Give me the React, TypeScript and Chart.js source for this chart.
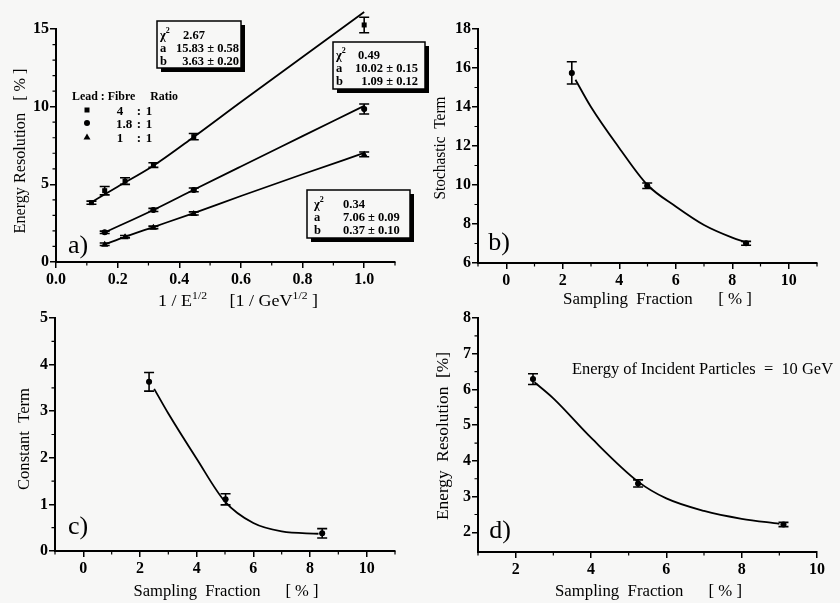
import React, { useEffect, useRef } from 'react';
import { Chart, registerables } from 'chart.js';
Chart.register(...registerables);

const FONT = '"Liberation Serif", "Times New Roman", serif';
const BG = '#f7f7f6';

// ---------------- Panel a) : energy resolution vs 1/sqrt(E) ----------------
const aX_4to1 = [0.115, 0.158, 0.224, 0.316, 0.447, 1.0];
const aY_4to1 = [3.82, 4.59, 5.21, 6.24, 8.07, 15.26];
const aE_4to1 = [0.1, 0.27, 0.21, 0.15, 0.2, 0.5];
const aX_18to1 = [0.158, 0.316, 0.447, 1.0];
const aY_18to1 = [1.91, 3.35, 4.64, 9.85];
const aE_18to1 = [0.08, 0.1, 0.12, 0.32];
const aX_1to1 = [0.158, 0.224, 0.316, 0.447, 1.0];
const aY_1to1 = [1.14, 1.63, 2.23, 3.13, 6.93];
const aE_1to1 = [0.08, 0.08, 0.08, 0.1, 0.15];
// fit curves
const aFitX_4to1 = [0.115, 0.2, 0.316, 0.447, 0.6, 0.8, 1.0];
const aFitY_4to1 = [3.85, 4.85, 6.2, 8.05, 10.3, 13.2, 16.1];
const aFitX_18to1 = [0.158, 0.316, 0.447, 0.6, 0.8, 1.0];
const aFitY_18to1 = [1.9, 3.35, 4.65, 6.15, 8.1, 10.05];
const aFitX_1to1 = [0.158, 0.224, 0.316, 0.447, 0.6, 0.8, 1.0];
const aFitY_1to1 = [1.14, 1.62, 2.25, 3.15, 4.25, 5.65, 7.02];
const aXTicks = [0, 0.2, 0.4, 0.6, 0.8, 1.0];
const aYTicks = [0, 5, 10, 15];
const aXMinor = [0.1, 0.3, 0.5, 0.7, 0.9, 1.1];
const aYMinor = [1, 2, 3, 4, 6, 7, 8, 9, 11, 12, 13, 14];
const aFitBoxes = [
  { chi2: '2.67', a: '15.83 ± 0.58', b: '3.63 ± 0.20' },
  { chi2: '0.49', a: '10.02 ± 0.15', b: '1.09 ± 0.12' },
  { chi2: '0.34', a: '7.06 ± 0.09', b: '0.37 ± 0.10' },
];
const aLegendRatios = ['4', '1.8', '1'];

// ---------------- Panel b) : stochastic term ----------------
const bX = [2.32, 4.99, 8.49];
const bY = [15.75, 9.96, 7.01];
const bE = [0.57, 0.14, 0.1];
const bFitX = [2.45, 3, 4, 5, 6, 7, 8, 8.5];
const bFitY = [15.4, 14.0, 11.9, 10.0, 8.9, 7.95, 7.3, 7.05];
const bXTicks = [0, 2, 4, 6, 8, 10];
const bYTicks = [6, 8, 10, 12, 14, 16, 18];
const bXMinor = [-1, 1, 3, 5, 7, 9, 11];
const bYMinor = [7, 9, 11, 13, 15, 17];

// ---------------- Panel c) : constant term ----------------
const cX = [2.32, 5.02, 8.43];
const cY = [3.63, 1.11, 0.38];
const cE = [0.2, 0.12, 0.1];
const cFitX = [2.5, 3, 4, 5, 6, 7, 8.3];
const cFitY = [3.48, 2.95, 1.98, 1.06, 0.6, 0.42, 0.37];
const cXTicks = [0, 2, 4, 6, 8, 10];
const cYTicks = [0, 1, 2, 3, 4, 5];
const cXMinor = [-1, 1, 3, 5, 7, 9, 11];
const cYMinor = [0.5, 1.5, 2.5, 3.5, 4.5];

// ---------------- Panel d) : energy resolution at 10 GeV ----------------
const dX = [2.46, 5.25, 9.11];
const dY = [6.29, 3.37, 2.22];
const dE = [0.15, 0.1, 0.06];
const dFitX = [2.5, 3, 4, 5.25, 6, 7, 8, 9.0];
const dFitY = [6.2, 5.75, 4.65, 3.42, 2.95, 2.6, 2.38, 2.24];
const dXTicks = [2, 4, 6, 8, 10];
const dYTicks = [2, 3, 4, 5, 6, 7, 8];
const dXMinor = [1, 3, 5, 7, 9];
const dYMinor = [2.5, 3.5, 4.5, 5.5, 6.5, 7.5];

// ---------------- texts ----------------
const T_ENERGY_RES = 'Energy Resolution   [ % ]';
const T_SAMPLING = 'Sampling  Fraction      [ % ]';
const T_STOCH = 'Stochastic  Term';
const T_CONST = 'Constant  Term';
const T_ERES_D = 'Energy  Resolution  [%]';
const T_INCIDENT = 'Energy of Incident Particles  =  10 GeV';
const T_LEGEND = 'Lead : Fibre     Ratio';

type Part = { t: string; sup?: boolean };
type TextItem = {
  parts: Part[]; x: number; y: number; size: number; bold?: boolean;
  align?: 'left' | 'center' | 'right'; baseline?: CanvasTextBaseline; rotate?: boolean; width?: number;
};

function drawText(ctx: CanvasRenderingContext2D, it: TextItem) {
  const w = it.bold ? 'bold ' : '';
  const main = `${w}${it.size}px ${FONT}`;
  const sup = `${w}${Math.round(it.size * 0.62)}px ${FONT}`;
  const widths = it.parts.map((p) => { ctx.font = p.sup ? sup : main; return ctx.measureText(p.t).width; });
  const total = widths.reduce((a, b) => a + b, 0);
  const sx = it.width ? it.width / total : 1;
  ctx.save();
  ctx.fillStyle = '#000';
  ctx.textBaseline = it.baseline || 'alphabetic';
  ctx.textAlign = 'left';
  ctx.translate(it.x, it.y);
  if (it.rotate) ctx.rotate(-Math.PI / 2);
  ctx.scale(sx, 1);
  let cx = it.align === 'center' ? -total / 2 : it.align === 'right' ? -total : 0;
  it.parts.forEach((p, i) => {
    ctx.font = p.sup ? sup : main;
    ctx.fillText(p.t, cx, p.sup ? -it.size * 0.42 : 0);
    cx += widths[i];
  });
  ctx.restore();
}

type Series = { xs: number[]; ys: number[]; errs: number[]; style: string };
type Fit = { xs: number[]; ys: number[] };
type Box = { x: number; y: number; w: number; h: number; labelX: number; valX: number; rightX?: number; lines: number[]; vals: { chi2: string; a: string; b: string } };

type Panel = {
  left: number; top: number; width: number; height: number;
  pad: { left: number; top: number; right: number; bottom: number };
  yW: number; xH: number;
  xMin: number; xMax: number; yMin: number; yMax: number;
  xTicks: number[]; yTicks: number[]; xMinor: number[]; yMinor: number[];
  xFmt: (v: number) => string;
  series: Series[]; fits: Fit[]; texts: TextItem[];
  boxes?: Box[]; legend?: boolean;
};

const simple = (t: string): Part[] => [{ t }];

const panels: Panel[] = [
  {
    left: 0, top: 0, width: 440, height: 312,
    pad: { left: 0, top: 29, right: 45, bottom: 0 }, yW: 56, xH: 50,
    xMin: 0, xMax: 1.1, yMin: 0, yMax: 15,
    xTicks: aXTicks, yTicks: aYTicks, xMinor: aXMinor, yMinor: aYMinor,
    xFmt: (v) => v.toFixed(1),
    series: [
      { xs: aX_4to1, ys: aY_4to1, errs: aE_4to1, style: 'rect' },
      { xs: aX_18to1, ys: aY_18to1, errs: aE_18to1, style: 'circle' },
      { xs: aX_1to1, ys: aY_1to1, errs: aE_1to1, style: 'triangle' },
    ],
    fits: [
      { xs: aFitX_4to1, ys: aFitY_4to1 },
      { xs: aFitX_18to1, ys: aFitY_18to1 },
      { xs: aFitX_1to1, ys: aFitY_1to1 },
    ],
    texts: [
      { parts: simple(T_ENERGY_RES), x: 21, y: 151, size: 17, rotate: true, align: 'center', baseline: 'middle', width: 165 },
      { parts: [{ t: '1 / E' }, { t: '1/2', sup: true }, { t: '     [1 / GeV' }, { t: '1/2', sup: true }, { t: ' ]' }], x: 238, y: 306, size: 17, align: 'center', width: 160 },
      { parts: simple('a)'), x: 78, y: 246, size: 26, align: 'center', baseline: 'middle' },
      { parts: simple(T_LEGEND), x: 72, y: 99.5, size: 13, bold: true, width: 106 },
    ],
    boxes: [
      { x: 157, y: 21, w: 84, h: 47, labelX: 160, valX: 183, rightX: 239, lines: [34, 47, 60], vals: aFitBoxes[0] },
      { x: 333, y: 42, w: 92, h: 47, labelX: 336, valX: 358, rightX: 418, lines: [54, 67, 80], vals: aFitBoxes[1] },
      { x: 307, y: 190, w: 103, h: 48, labelX: 314, valX: 343, lines: [203, 216, 229], vals: aFitBoxes[2] },
    ],
    legend: true,
  },
  {
    left: 420, top: 0, width: 420, height: 312,
    pad: { left: 0, top: 29, right: 23, bottom: 0 }, yW: 58, xH: 49,
    xMin: -1, xMax: 11, yMin: 6, yMax: 18,
    xTicks: bXTicks, yTicks: bYTicks, xMinor: bXMinor, yMinor: bYMinor,
    xFmt: (v) => String(v),
    series: [{ xs: bX, ys: bY, errs: bE, style: 'circle' }],
    fits: [{ xs: bFitX, ys: bFitY }],
    texts: [
      { parts: simple(T_STOCH), x: 21, y: 148, size: 17, rotate: true, align: 'center', baseline: 'middle', width: 103 },
      { parts: simple(T_SAMPLING), x: 237.5, y: 304, size: 17, align: 'center', width: 189 },
      { parts: simple('b)'), x: 79, y: 243, size: 26, align: 'center', baseline: 'middle' },
    ],
  },
  {
    left: 0, top: 306, width: 420, height: 297,
    pad: { left: 0, top: 12, right: 25, bottom: 0 }, yW: 55, xH: 52,
    xMin: -1, xMax: 11, yMin: 0, yMax: 5,
    xTicks: cXTicks, yTicks: cYTicks, xMinor: cXMinor, yMinor: cYMinor,
    xFmt: (v) => String(v),
    series: [{ xs: cX, ys: cY, errs: cE, style: 'circle' }],
    fits: [{ xs: cFitX, ys: cFitY }],
    texts: [
      { parts: simple(T_CONST), x: 25, y: 133, size: 17, rotate: true, align: 'center', baseline: 'middle', width: 102 },
      { parts: simple(T_SAMPLING), x: 226, y: 290, size: 17, align: 'center', width: 185 },
      { parts: simple('c)'), x: 78, y: 221, size: 26, align: 'center', baseline: 'middle' },
    ],
  },
  {
    left: 420, top: 306, width: 420, height: 297,
    pad: { left: 0, top: 12, right: 23, bottom: 0 }, yW: 58, xH: 51,
    xMin: 1, xMax: 10, yMin: 1.45, yMax: 8,
    xTicks: dXTicks, yTicks: dYTicks, xMinor: dXMinor, yMinor: dYMinor,
    xFmt: (v) => String(v),
    series: [{ xs: dX, ys: dY, errs: dE, style: 'circle' }],
    fits: [{ xs: dFitX, ys: dFitY }],
    texts: [
      { parts: simple(T_ERES_D), x: 24, y: 130, size: 17, rotate: true, align: 'center', baseline: 'middle', width: 168 },
      { parts: simple(T_SAMPLING), x: 228.5, y: 290, size: 17, align: 'center', width: 187 },
      { parts: simple('d)'), x: 80, y: 225, size: 26, align: 'center', baseline: 'middle' },
      { parts: simple(T_INCIDENT), x: 152, y: 68, size: 17, width: 261 },
    ],
  },
];

function drawMarker(ctx: CanvasRenderingContext2D, style: string, x: number, y: number) {
  ctx.beginPath();
  if (style === 'rect') ctx.rect(x - 2.5, y - 2.5, 5, 5);
  else if (style === 'circle') ctx.arc(x, y, 3, 0, Math.PI * 2);
  else { ctx.moveTo(x, y - 3.5); ctx.lineTo(x + 3.5, y + 2.5); ctx.lineTo(x - 3.5, y + 2.5); ctx.closePath(); }
  ctx.fill();
}

function buildConfig(p: Panel): any {
  const datasets: any[] = [];
  p.fits.forEach((f) => datasets.push({
    data: f.xs.map((x, i) => ({ x, y: f.ys[i] })),
    showLine: true, pointRadius: 0, borderColor: '#000', borderWidth: 1.8,
    cubicInterpolationMode: 'monotone', fill: false, clip: false,
  }));
  p.series.forEach((s) => datasets.push({
    data: s.xs.map((x, i) => ({ x, y: s.ys[i] })),
    showLine: false, pointStyle: s.style, pointRadius: s.style === 'triangle' ? 3 : 2.6,
    backgroundColor: '#000', borderColor: '#000', borderWidth: 0, clip: false,
    errors: s.errs, markerStyle: s.style,
  }));

  const errorPlugin = {
    id: 'errorBars',
    afterDatasetsDraw(chart: any) {
      const ctx = chart.ctx as CanvasRenderingContext2D;
      const ys = chart.scales.y;
      chart.data.datasets.forEach((ds: any, i: number) => {
        if (!ds.errors) return;
        const meta = chart.getDatasetMeta(i);
        meta.data.forEach((pt: any, j: number) => {
          const v = ds.data[j].y; const e = ds.errors[j];
          const x = pt.x;
          const y1 = ys.getPixelForValue(v + e);
          const y2 = ys.getPixelForValue(v - e);
          ctx.save();
          ctx.strokeStyle = '#000'; ctx.lineWidth = 1.6;
          ctx.beginPath();
          ctx.moveTo(x, y1); ctx.lineTo(x, y2);
          ctx.moveTo(x - 5, y1); ctx.lineTo(x + 5, y1);
          ctx.moveTo(x - 5, y2); ctx.lineTo(x + 5, y2);
          ctx.stroke();
          ctx.fillStyle = '#000';
          drawMarker(ctx, ds.markerStyle, x, pt.y);
          ctx.restore();
        });
      });
    },
  };

  const decorPlugin = {
    id: 'decor',
    afterDraw(chart: any) {
      const ctx = chart.ctx as CanvasRenderingContext2D;
      const ca = chart.chartArea;
      const sx = chart.scales.x; const sy = chart.scales.y;
      ctx.save();
      ctx.strokeStyle = '#000'; ctx.lineWidth = 1.2;
      ctx.beginPath();
      p.xMinor.forEach((v) => { const x = sx.getPixelForValue(v); ctx.moveTo(x, ca.bottom); ctx.lineTo(x, ca.bottom + 3.5); });
      p.yMinor.forEach((v) => { const y = sy.getPixelForValue(v); ctx.moveTo(ca.left, y); ctx.lineTo(ca.left - 3.5, y); });
      ctx.stroke();
      ctx.restore();

      p.texts.forEach((t) => drawText(ctx, t));

      (p.boxes || []).forEach((b) => {
        ctx.save();
        ctx.fillStyle = '#000';
        ctx.fillRect(b.x + 4, b.y + 4, b.w, b.h);
        ctx.fillStyle = BG;
        ctx.fillRect(b.x, b.y, b.w, b.h);
        ctx.strokeStyle = '#000'; ctx.lineWidth = 1.5;
        ctx.strokeRect(b.x, b.y, b.w, b.h);
        ctx.restore();
        const base = b.lines.map((c) => c + 4.5);
        drawText(ctx, { parts: [{ t: 'χ' }, { t: '2', sup: true }], x: b.labelX, y: base[0], size: 12.5, bold: true });
        drawText(ctx, { parts: simple('a'), x: b.labelX, y: base[1], size: 12.5, bold: true });
        drawText(ctx, { parts: simple('b'), x: b.labelX, y: base[2], size: 12.5, bold: true });
        drawText(ctx, { parts: simple(b.vals.chi2), x: b.valX, y: base[0], size: 12.5, bold: true });
        if (b.rightX) {
          drawText(ctx, { parts: simple(b.vals.a), x: b.rightX, y: base[1], size: 12.5, bold: true, align: 'right' });
          drawText(ctx, { parts: simple(b.vals.b), x: b.rightX, y: base[2], size: 12.5, bold: true, align: 'right' });
        } else {
          drawText(ctx, { parts: simple(b.vals.a), x: b.valX, y: base[1], size: 12.5, bold: true });
          drawText(ctx, { parts: simple(b.vals.b), x: b.valX, y: base[2], size: 12.5, bold: true });
        }
      });

      if (p.legend) {
        const rows = [110, 123, 137];
        const centers = [120, 124, 120];
        ctx.save();
        ctx.fillStyle = '#000';
        p.series.forEach((s, i) => drawMarker(ctx, s.style, 87, rows[i]));
        ctx.restore();
        aLegendRatios.forEach((r, i) => {
          drawText(ctx, { parts: simple(r), x: centers[i], y: rows[i] + 4.5, size: 13, bold: true, align: 'center' });
          drawText(ctx, { parts: simple(':'), x: 139, y: rows[i] + 4.5, size: 13, bold: true, align: 'center' });
          drawText(ctx, { parts: simple('1'), x: 149, y: rows[i] + 4.5, size: 13, bold: true, align: 'center' });
        });
      }
    },
  };

  const tickFont = { family: FONT, size: 16, weight: 'bold' as const };
  const axisCommon = {
    type: 'linear' as const,
    grid: { display: true, drawOnChartArea: false, drawTicks: true, tickLength: 6, color: '#000', lineWidth: 1.5 },
    border: { display: true, color: '#000', width: 2 },
    title: { display: false },
  };

  return {
    type: 'scatter',
    data: { datasets },
    options: {
      responsive: false,
      animation: false,
      devicePixelRatio: 1,
      layout: { padding: p.pad },
      plugins: { legend: { display: false }, tooltip: { enabled: false } },
      scales: {
        x: {
          ...axisCommon, position: 'bottom', min: p.xMin, max: p.xMax,
          afterBuildTicks: (s: any) => { s.ticks = p.xTicks.map((v) => ({ value: v })); },
          afterFit: (s: any) => { s.height = p.xH; },
          ticks: { autoSkip: false, maxRotation: 0, minRotation: 0, color: '#000', font: tickFont, padding: 2, callback: (v: any) => p.xFmt(Number(v)) },
        },
        y: {
          ...axisCommon, position: 'left', min: p.yMin, max: p.yMax,
          afterBuildTicks: (s: any) => { s.ticks = p.yTicks.map((v) => ({ value: v })); },
          afterFit: (s: any) => { s.width = p.yW; },
          ticks: { autoSkip: false, color: '#000', font: tickFont, padding: 1, callback: (v: any) => String(Number(v)) },
        },
      },
    },
    plugins: [errorPlugin, decorPlugin],
  };
}

function PanelChart({ p }: { p: Panel }) {
  const ref = useRef<HTMLCanvasElement>(null);
  useEffect(() => {
    const chart = new Chart(ref.current as HTMLCanvasElement, buildConfig(p));
    return () => chart.destroy();
  }, [p]);
  return (
    <canvas
      ref={ref}
      width={p.width}
      height={p.height}
      style={{ position: 'absolute', left: p.left, top: p.top, width: p.width, height: p.height }}
    />
  );
}

export default function App() {
  return (
    <div style={{ position: 'absolute', left: 0, top: 0, width: 840, height: 603, background: BG, overflow: 'hidden' }}>
      {panels.map((p, i) => <PanelChart key={i} p={p} />)}
    </div>
  );
}
